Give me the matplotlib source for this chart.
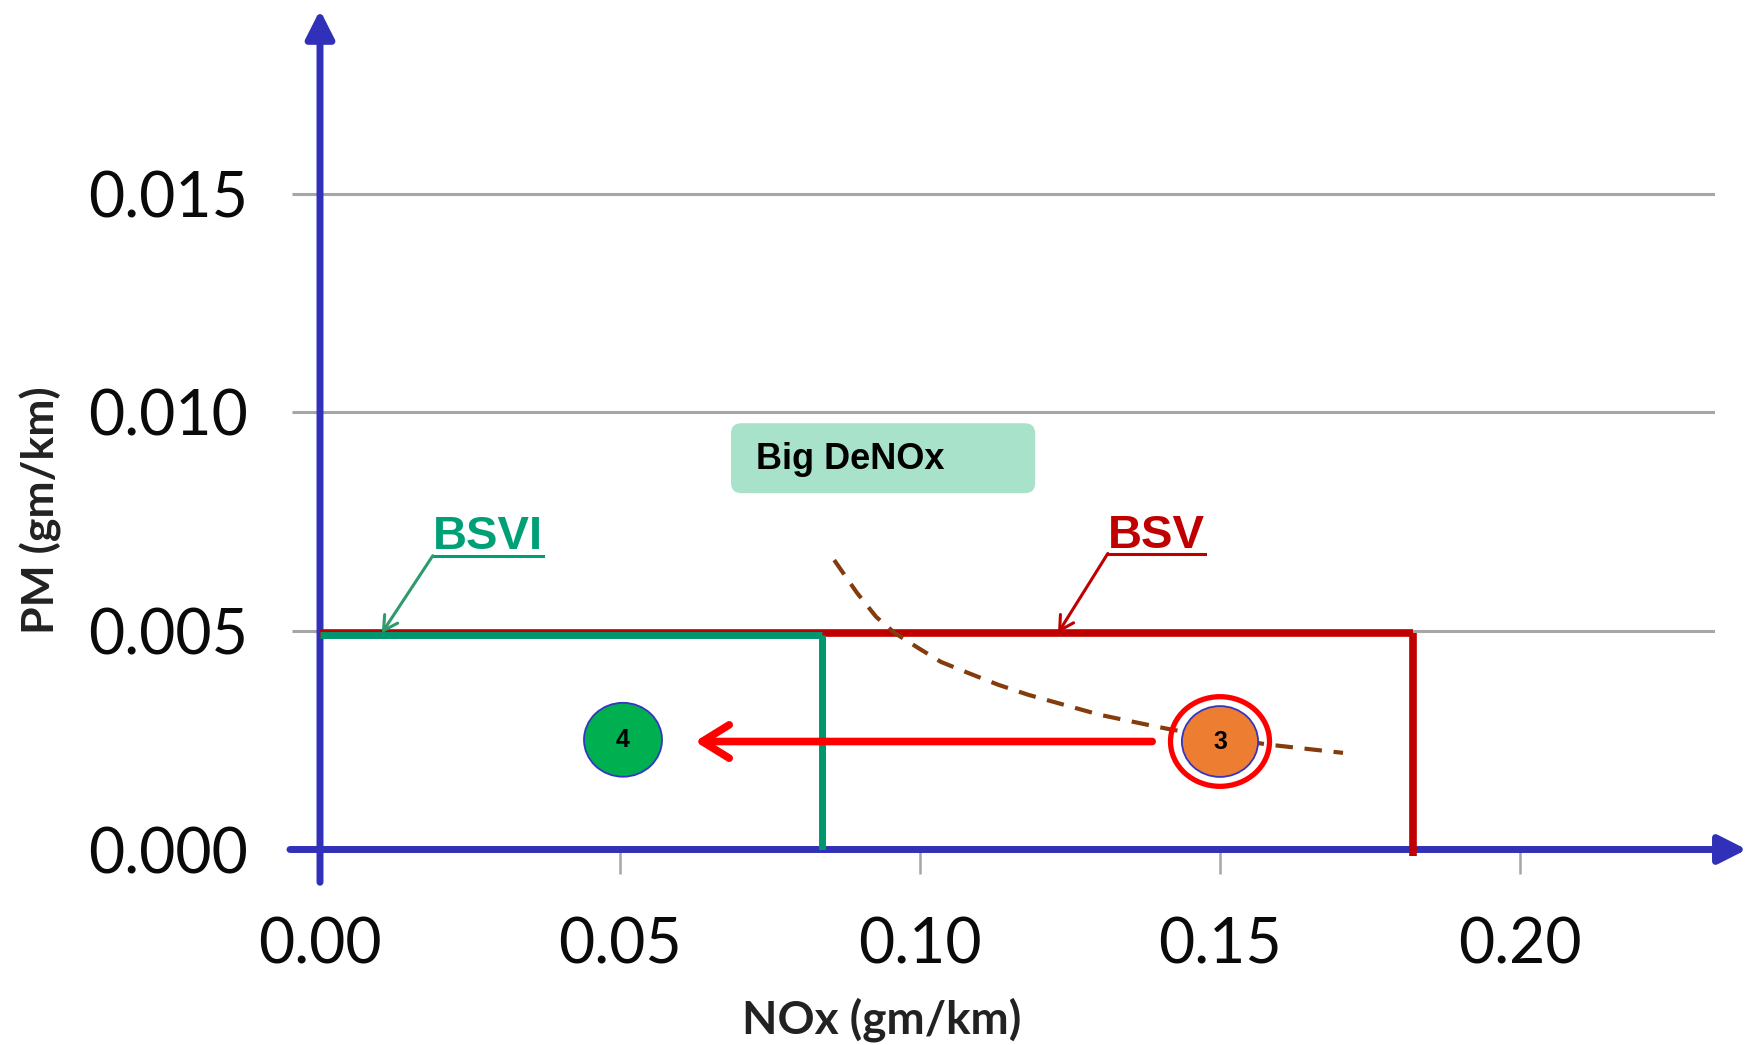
import matplotlib.pyplot as plt
from matplotlib.patches import Ellipse, FancyBboxPatch

# emission limits in gm/km
bs6_nox = 0.0837
bs6_pm = 0.0049
bs5_nox = 0.1822
bs5_pm = 0.00495

# vehicle points
point_labels = ["4", "3"]
point_nox = [0.0505, 0.150]
point_pm = [0.00251, 0.00247]

# NOx / PM trade-off curve (dashed)
curve_nox = [0.0857, 0.0895, 0.0927, 0.0958, 0.0997, 0.1035, 0.108, 0.113,
             0.118, 0.124, 0.130, 0.138, 0.142, 0.158, 0.1705]
curve_pm = [0.00662, 0.00587, 0.00532, 0.00495, 0.00461, 0.00429, 0.00404,
            0.00377, 0.00354, 0.00331, 0.00308, 0.00285, 0.00274, 0.00240, 0.00221]

x_ticks = [0.00, 0.05, 0.10, 0.15, 0.20]
y_ticks = [0.000, 0.005, 0.010, 0.015]

blue = "#3030B8"
grey = "#A6A6A6"
dark_red = "#C00000"
green = "#00966E"

fig = plt.figure(figsize=(17.5, 10.45), dpi=100)
ax = fig.add_axes([320 / 1750, 1 - 849.5 / 1045, 1395 / 1750, 830.7 / 1045])
ax.set_xlim(0, 0.2325)
ax.set_ylim(0, 0.019)
for s in ax.spines.values():
    s.set_visible(False)

ax.set_xticks(x_ticks)
ax.set_xticklabels([f"{v:.2f}" for v in x_ticks])
ax.set_yticks(y_ticks)
ax.set_yticklabels([f"{v:.3f}" for v in y_ticks])
ax.tick_params(axis="y", length=20, width=2.2, color=grey, pad=32, labelsize=45)
ax.tick_params(axis="x", length=17, width=1.8, color=grey, pad=31, labelsize=45)
for t in ax.get_xticklabels() + ax.get_yticklabels():
    t.set_fontfamily("Lato")
    t.set_color("#0a0a0a")
ax.grid(axis="y", color=grey, lw=2.2)
ax.set_axisbelow(True)

# axes with arrow heads
ax.annotate("", xy=(0.2378, 0), xytext=(-0.005, 0), annotation_clip=False,
            arrowprops=dict(arrowstyle="-|>,head_length=0.85,head_width=0.43",
                            color=blue, lw=5, shrinkA=0, shrinkB=0, mutation_scale=20))
ax.annotate("", xy=(0, 0.0192), xytext=(0, -0.00075), annotation_clip=False,
            arrowprops=dict(arrowstyle="-|>,head_length=0.85,head_width=0.43",
                            color=blue, lw=5, shrinkA=0, shrinkB=0, mutation_scale=20))

# BSV limit box
ax.plot([0, bs5_nox], [bs5_pm, bs5_pm], color=dark_red, lw=5.5, solid_capstyle="butt", zorder=3)
ax.plot([bs5_nox, bs5_nox], [bs5_pm, -0.00015], color=dark_red, lw=5.5,
        solid_capstyle="butt", zorder=3, clip_on=False)
# BSVI limit box
ax.plot([0, bs6_nox], [bs6_pm, bs6_pm], color=green, lw=5, solid_capstyle="butt", zorder=3)
ax.plot([bs6_nox, bs6_nox], [bs6_pm, 0], color=green, lw=5, solid_capstyle="butt", zorder=3)

# trade-off curve
ax.plot(curve_nox, curve_pm, color="#843C0C", lw=3, ls=(0, (4.2, 2.8)), zorder=3)

# improvement arrow from point 3 to point 4
ax.annotate("", xy=(0.0625, point_pm[1]), xytext=(0.1387, point_pm[1]),
            arrowprops=dict(arrowstyle="->,head_length=0.97,head_width=0.6",
                            color="#FF0000", lw=5.5, shrinkA=0, shrinkB=0,
                            mutation_scale=20, capstyle="round", joinstyle="round"),
            zorder=4)

# points
ax.add_patch(Ellipse((point_nox[0], point_pm[0]), 0.013, 0.00169, fc="#00B050",
                     ec="#3535C0", lw=1.3, zorder=5))
ax.add_patch(Ellipse((point_nox[1], point_pm[1]), 0.0127, 0.00162, fc="#ED7D31",
                     ec="#3535C0", lw=1.3, zorder=5))
ax.add_patch(Ellipse((point_nox[1], point_pm[1]), 0.0165, 0.00205, fc="none",
                     ec="#FF0000", lw=3.8, zorder=5))
for lab, x, y in zip(point_labels, point_nox, point_pm):
    ax.text(x, y, lab, ha="center", va="center", fontsize=18, fontweight="bold",
            family="Liberation Sans", zorder=6)

# Big DeNOx box
box = FancyBboxPatch((0.0685, 0.00815), 0.0507, 0.0016,
                     boxstyle="round,pad=0,rounding_size=0.0017",
                     mutation_aspect=6000 / 43720, fc="#A9E2CB", ec="none", zorder=3)
ax.add_patch(box)
ax.text(0.0727, 0.00893, "Big DeNOx", ha="left", va="center", fontsize=26,
        fontweight="bold", family="Liberation Sans", zorder=4)

# BSVI label
ax.text(0.0188, 0.00687, "BSVI", ha="left", va="baseline", fontsize=34,
        fontweight="bold", family="Liberation Sans", color="#00A077", zorder=4)
ax.plot([0.0188, 0.0372], [0.00672, 0.00672], color="#00A077", lw=2.2, zorder=4)
ax.annotate("", xy=(0.0103, 0.00495), xytext=(0.0188, 0.00672),
            arrowprops=dict(arrowstyle="->,head_length=0.5,head_width=0.28",
                            color="#2E9A6E", lw=2.2, shrinkA=0, shrinkB=0,
                            mutation_scale=20), zorder=4)

# BSV label
ax.text(0.1313, 0.00689, "BSV", ha="left", va="baseline", fontsize=34,
        fontweight="bold", family="Liberation Sans", color=dark_red, zorder=4)
ax.plot([0.1313, 0.1475], [0.00677, 0.00677], color=dark_red, lw=2.2, zorder=4)
ax.annotate("", xy=(0.123, 0.00495), xytext=(0.1313, 0.00677),
            arrowprops=dict(arrowstyle="->,head_length=0.5,head_width=0.28",
                            color=dark_red, lw=2.2, shrinkA=0, shrinkB=0,
                            mutation_scale=20), zorder=4)

# axis titles
fig.text(41 / 1750, 1 - 510 / 1045, "PM (gm/km)", rotation=90, ha="center", va="center",
         fontsize=32, fontweight="bold", family="Lato", color="#222222")
fig.text(882 / 1750, 1 - 1020 / 1045, "NOx (gm/km)", ha="center", va="center",
         fontsize=33, fontweight="bold", family="Lato", color="#222222")

fig.savefig("out.png", dpi=100)
